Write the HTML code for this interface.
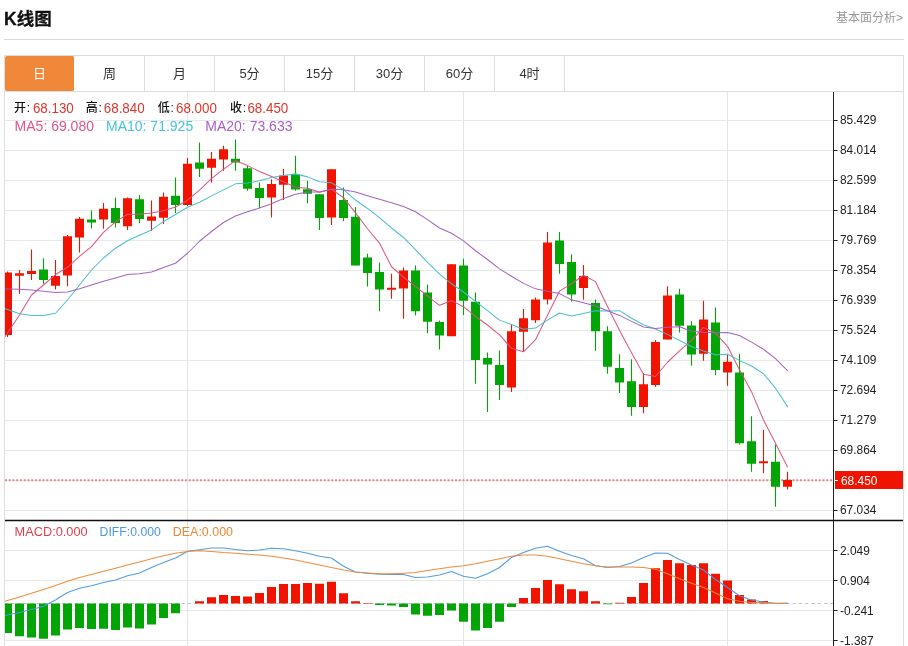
<!DOCTYPE html>
<html lang="zh-CN"><head><meta charset="utf-8"><title>K线图</title>
<style>
html,body{margin:0;padding:0;background:#fff;}
body{width:908px;height:646px;position:relative;overflow:hidden;font-family:"Liberation Sans","Noto Sans CJK SC",sans-serif;color:#222;}
.title{position:absolute;left:4px;top:7px;font-size:17.5px;font-weight:bold;line-height:24px;color:#111;-webkit-text-stroke:0.3px #111;}
.more{position:absolute;right:5px;top:9px;font-size:12px;line-height:18px;color:#999;}
.hr{position:absolute;left:4px;top:39px;width:900px;height:1px;background:#d9d9d9;}
.tabs{position:absolute;left:4px;top:55px;width:898px;height:35px;border:1px solid #ddd;background:#fff;}
.tab{float:left;width:69px;height:35px;border-right:1px solid #ddd;text-align:center;line-height:35px;font-size:13px;color:#333;box-sizing:content-box;}
.tab.on{background:#f0883a;color:#fff;border-right-color:#fff;border-radius:2px;}
</style></head><body>
<div class="title">K线图</div>
<div class="more">基本面分析&gt;</div>
<div class="hr"></div>
<div class="tabs"><div class="tab on">日</div><div class="tab">周</div><div class="tab">月</div><div class="tab">5分</div><div class="tab">15分</div><div class="tab">30分</div><div class="tab">60分</div><div class="tab">4时</div></div>
<svg width="900" height="555" viewBox="4 91 900 555" style="position:absolute;left:4px;top:91px;display:block" font-family="'Liberation Sans', 'Noto Sans CJK SC', sans-serif">
<defs><clipPath id="cp"><rect x="5" y="92" width="828" height="554"/></clipPath></defs>
<path d="M5 120.5H833M5 150.5H833M5 180.5H833M5 210.5H833M5 240.5H833M5 270.5H833M5 300.5H833M5 330.5H833M5 360.5H833M5 390.5H833M5 420.5H833M5 450.5H833M5 480.5H833M5 510.5H833M5 550.5H833M5 580.5H833M5 610.5H833M5 640.5H833" stroke="#e8e8e9" stroke-width="1" fill="none"/>
<path d="M187.5 92V646M463.5 92V646M727.5 92V646" stroke="#e1e6ed" stroke-width="1" fill="none"/>
<path d="M4.5 91V646M903.5 91V646" stroke="#ddd" stroke-width="1" fill="none"/>
<path d="M5 603.5H833" stroke="#bcc6d0" stroke-width="1" stroke-dasharray="3.3 3" fill="none"/>
<path d="M5 480.2H833" stroke="#dd8c8c" stroke-width="2" stroke-dasharray="2 1.75" fill="none"/>
<g clip-path="url(#cp)">
<path d="M7.5 271.5V337.0M19.5 270.0V293.75M31.5 249.5V280.0M55.5 260.0V289.5M67.5 235.0V286.25M79.5 217.0V252.5M103.5 203.0V228.75M127.5 197.5V230.0M151.5 200.5V231.0M163.5 192.5V224.0M187.5 158.0V206.0M211.5 152.0V182.5M223.5 145.75V170.75M271.5 179.25V217.5M283.5 169.0V200.0M331.5 169.25V225.0M391.5 273.75V298.75M403.5 267.5V318.75M451.5 264.25V336.25M511.5 324.5V392.0M523.5 309.0V351.0M535.5 297.5V323.0M547.5 232.0V304.5M583.5 265.0V299.75M643.5 373.0V413.25M655.5 340.0V386.75M667.5 286.25V339.5M703.5 300.75V360.75M727.5 355.0V385.75M763.5 430.0V473.25M787.5 471.75V489.5" stroke="#f01400" stroke-width="1.1" fill="none"/>
<path d="M3.0 272.5h9v62.5h-9zM15.0 273.25h9v2.5h-9zM27.0 271.0h9v3.0h-9zM51.0 276.0h9v9.75h-9zM63.0 236.25h9v39.25h-9zM75.0 218.75h9v18.75h-9zM99.0 208.75h9v10.75h-9zM123.0 198.25h9v28.0h-9zM147.0 216.5h9v4.25h-9zM159.0 196.75h9v21.0h-9zM183.0 163.75h9v41.25h-9zM207.0 158.75h9v9.0h-9zM219.0 149.25h9v10.25h-9zM267.0 184.0h9v13.5h-9zM279.0 175.5h9v9.25h-9zM327.0 169.25h9v48.25h-9zM387.0 287.75h9v2.0h-9zM399.0 270.5h9v18.0h-9zM447.0 264.25h9v72.0h-9zM507.0 331.25h9v56.25h-9zM519.0 318.25h9v13.5h-9zM531.0 299.5h9v20.75h-9zM543.0 242.5h9v57.0h-9zM579.0 276.0h9v12.0h-9zM639.0 384.25h9v22.75h-9zM651.0 342.0h9v43.0h-9zM663.0 295.5h9v44.0h-9zM699.0 319.5h9v34.25h-9zM723.0 361.75h9v10.75h-9zM759.0 461.25h9v2.0h-9zM783.0 480.0h9v6.75h-9z" fill="#f01400"/>
<path d="M43.5 258.25V283.75M91.5 210.5V228.5M115.5 197.5V227.5M139.5 195.0V223.25M175.5 177.5V213.0M199.5 142.5V177.0M235.5 139.5V170.75M247.5 165.75V190.75M259.5 182.5V208.0M295.5 155.75V190.75M307.5 180.75V203.25M319.5 194.25V230.0M343.5 187.5V221.25M355.5 207.0V265.5M367.5 253.75V286.5M379.5 262.5V311.25M415.5 265.5V315.5M427.5 284.5V333.25M439.5 320.5V349.5M463.5 258.75V315.0M475.5 292.5V383.75M487.5 352.5V412.0M499.5 350.5V400.0M559.5 232.0V273.75M571.5 254.25V301.5M595.5 299.5V350.75M607.5 326.25V373.75M619.5 354.25V393.0M631.5 359.25V415.75M679.5 288.75V332.5M691.5 321.25V365.75M715.5 307.5V375.25M739.5 353.75V444.5M751.5 416.25V471.75M775.5 444.5V506.75" stroke="#03a506" stroke-width="1.1" fill="none"/>
<path d="M39.0 269.5h9v10.5h-9zM87.0 219.5h9v3.0h-9zM111.0 208.0h9v15.0h-9zM135.0 199.25h9v19.75h-9zM171.0 195.75h9v9.25h-9zM195.0 162.5h9v6.25h-9zM231.0 158.75h9v3.75h-9zM243.0 168.25h9v20.5h-9zM255.0 188.0h9v10.0h-9zM291.0 174.25h9v15.25h-9zM303.0 189.25h9v4.5h-9zM315.0 194.25h9v23.75h-9zM339.0 200.0h9v18.0h-9zM351.0 216.75h9v48.75h-9zM363.0 257.5h9v15.5h-9zM375.0 272.0h9v17.5h-9zM411.0 270.5h9v40.75h-9zM423.0 292.5h9v29.25h-9zM435.0 322.0h9v13.5h-9zM459.0 265.5h9v35.25h-9zM471.0 301.75h9v58.25h-9zM483.0 358.0h9v6.5h-9zM495.0 365.0h9v20.0h-9zM555.0 240.5h9v23.5h-9zM567.0 262.0h9v32.5h-9zM591.0 303.0h9v28.25h-9zM603.0 331.25h9v35.5h-9zM615.0 368.0h9v14.5h-9zM627.0 381.25h9v25.75h-9zM675.0 294.5h9v31.25h-9zM687.0 325.5h9v29.0h-9zM711.0 322.5h9v47.5h-9zM735.0 372.5h9v70.75h-9zM747.0 441.25h9v22.5h-9zM771.0 461.75h9v25.0h-9z" fill="#03a506"/>
<path d="M195.0 601.25h9V603.5h-9zM207.0 597.25h9V603.5h-9zM219.0 595h9V603.5h-9zM231.0 596h9V603.5h-9zM243.0 596.5h9V603.5h-9zM255.0 593h9V603.5h-9zM267.0 587h9V603.5h-9zM279.0 584h9V603.5h-9zM291.0 584h9V603.5h-9zM303.0 583h9V603.5h-9zM315.0 583.75h9V603.5h-9zM327.0 581.75h9V603.5h-9zM339.0 593.25h9V603.5h-9zM351.0 601.25h9V603.5h-9zM363.0 603h9V603.5h-9zM519.0 598h9V603.5h-9zM531.0 588h9V603.5h-9zM543.0 580h9V603.5h-9zM555.0 584.25h9V603.5h-9zM567.0 589.25h9V603.5h-9zM579.0 591.25h9V603.5h-9zM591.0 601.25h9V603.5h-9zM615.0 602.75h9V603.5h-9zM627.0 597h9V603.5h-9zM639.0 583h9V603.5h-9zM651.0 568.25h9V603.5h-9zM663.0 560h9V603.5h-9zM675.0 563.25h9V603.5h-9zM687.0 565h9V603.5h-9zM699.0 563.25h9V603.5h-9zM711.0 573.75h9V603.5h-9zM723.0 580.5h9V603.5h-9zM735.0 595h9V603.5h-9zM747.0 599.5h9V603.5h-9zM759.0 601h9V603.5h-9z" fill="#f01400"/>
<path d="M3.0 603.5h9V633h-9zM15.0 603.5h9V636.25h-9zM27.0 603.5h9V637.5h-9zM39.0 603.5h9V638.75h-9zM51.0 603.5h9V635.5h-9zM63.0 603.5h9V629.5h-9zM75.0 603.5h9V628h-9zM87.0 603.5h9V629h-9zM99.0 603.5h9V628.75h-9zM111.0 603.5h9V630h-9zM123.0 603.5h9V627.5h-9zM135.0 603.5h9V628.5h-9zM147.0 603.5h9V624.5h-9zM159.0 603.5h9V618h-9zM171.0 603.5h9V613.25h-9zM375.0 603.5h9V605h-9zM387.0 603.5h9V605.5h-9zM399.0 603.5h9V607h-9zM411.0 603.5h9V614.5h-9zM423.0 603.5h9V615.75h-9zM435.0 603.5h9V615h-9zM447.0 603.5h9V610.5h-9zM459.0 603.5h9V621.75h-9zM471.0 603.5h9V630.5h-9zM483.0 603.5h9V628h-9zM495.0 603.5h9V621.75h-9zM507.0 603.5h9V607h-9zM603.0 603.5h9V604.25h-9z" fill="#03a506"/>
<polyline points="5,336.75 7.5,333 19.5,315 31.5,295 43.5,285 55.5,274.55 67.5,267.3 79.5,256.4 91.5,246.7 103.5,232.45 115.5,221.85 127.5,214.25 139.5,214.3 151.5,213.1 163.5,210.7 175.5,207.1 187.5,200.2 199.5,190.15 211.5,178.6 223.5,169.1 235.5,160.6 247.5,165.6 259.5,171.45 271.5,176.5 283.5,181.75 295.5,187.15 307.5,188.15 319.5,192.15 331.5,189.2 343.5,197.7 355.5,212.9 367.5,228.75 379.5,243.05 391.5,266.75 403.5,277.25 415.5,286.4 427.5,296.15 439.5,305.35 451.5,300.65 463.5,306.7 475.5,316.45 487.5,325.0 499.5,334.9 511.5,348.3 523.5,351.8 535.5,339.7 547.5,315.3 559.5,291.1 571.5,283.75 583.5,275.3 595.5,281.65 607.5,306.5 619.5,330.2 631.5,352.7 643.5,374.35 655.5,376.5 667.5,362.25 679.5,350.9 691.5,340.4 703.5,327.45 715.5,333.05 727.5,346.3 739.5,369.8 751.5,391.65 763.5,420.0 775.5,443.35 787.5,467.0" fill="none" stroke="#dc4f80" stroke-width="1.05" stroke-linejoin="round" stroke-linecap="round" opacity="0.95"/>
<polyline points="5,308.61 7.5,309.5 19.5,313.75 31.5,315.5 43.5,315.5 55.5,313.25 67.5,300 79.5,285 91.5,270 103.5,258 115.5,248.2 127.5,240.78 139.5,235.35 151.5,229.9 163.5,221.57 175.5,214.47 187.5,207.22 199.5,202.22 211.5,195.85 223.5,189.9 235.5,183.85 247.5,182.9 259.5,180.8 271.5,177.55 283.5,175.43 295.5,173.88 307.5,176.88 319.5,181.8 331.5,182.85 343.5,189.72 355.5,200.03 367.5,208.45 379.5,217.6 391.5,227.97 403.5,237.47 415.5,249.65 427.5,262.45 439.5,274.2 451.5,283.7 463.5,291.98 475.5,301.43 487.5,310.57 499.5,320.12 511.5,324.48 523.5,329.25 535.5,328.07 547.5,320.15 559.5,313.0 571.5,316.02 583.5,313.55 595.5,310.68 607.5,310.9 619.5,310.65 631.5,318.23 643.5,324.82 655.5,329.07 667.5,334.38 679.5,340.55 691.5,346.55 703.5,350.9 715.5,354.77 727.5,354.27 739.5,360.35 751.5,366.02 763.5,373.73 775.5,388.2 787.5,406.65" fill="none" stroke="#43bccc" stroke-width="1.05" stroke-linejoin="round" stroke-linecap="round" opacity="0.95"/>
<polyline points="5,288.95 7.5,289 19.5,289.25 31.5,290 43.5,291.25 55.5,292.5 67.5,292 79.5,288.75 91.5,285 103.5,281.25 115.5,278 127.5,274.5 139.5,273.75 151.5,272 163.5,267.5 175.5,263.25 187.5,253.25 199.5,241.25 211.5,231.5 223.5,222.5 235.5,216.03 247.5,211.84 259.5,208.07 271.5,203.72 283.5,198.5 295.5,194.18 307.5,192.05 319.5,192.01 331.5,189.35 343.5,189.81 355.5,191.94 367.5,195.68 379.5,199.2 391.5,202.76 403.5,206.45 415.5,211.76 427.5,219.66 439.5,228.0 451.5,233.28 463.5,240.85 475.5,250.72 487.5,259.51 499.5,268.86 511.5,276.23 523.5,283.36 535.5,288.86 547.5,291.3 559.5,293.6 571.5,299.86 583.5,302.76 595.5,306.05 607.5,310.74 619.5,315.39 631.5,321.35 643.5,327.04 655.5,328.57 667.5,327.26 679.5,326.77 691.5,331.29 703.5,332.23 715.5,332.73 727.5,332.59 739.5,335.5 751.5,342.12 763.5,349.27 775.5,358.64 787.5,370.51" fill="none" stroke="#a05cc0" stroke-width="1.05" stroke-linejoin="round" stroke-linecap="round" opacity="0.95"/>
<polyline points="5,615.52 7.5,615 19.5,612.5 31.5,609.5 43.5,606.25 55.5,600 67.5,592.5 79.5,588.25 91.5,585.75 103.5,582.5 115.5,580 127.5,575.75 139.5,573 151.5,567.5 163.5,562.5 175.5,558 187.5,551.25 199.5,549.75 211.5,548.1 223.5,548 235.5,549.5 247.5,550.75 259.5,550 271.5,548.25 283.5,548.75 295.5,550.75 307.5,553.25 319.5,556.25 331.5,558 343.5,566.25 355.5,572 367.5,573.25 379.5,574.25 391.5,574.5 403.5,574.6 415.5,577.5 427.5,577 439.5,575 451.5,571.5 463.5,576.25 475.5,578.25 487.5,573.75 499.5,567.5 511.5,557.5 523.5,552.5 535.5,548.25 547.5,546.25 559.5,551.25 571.5,555.5 583.5,558.75 595.5,565.75 607.5,567.5 619.5,566.6 631.5,563 643.5,557.5 655.5,553 667.5,553.25 679.5,559.5 691.5,565 703.5,570 715.5,579.5 727.5,587.5 739.5,595.75 751.5,600 763.5,602 775.5,603.25 787.5,603.25" fill="none" stroke="#4a98e0" stroke-width="1.05" stroke-linejoin="round" stroke-linecap="round" opacity="0.95"/>
<polyline points="5,601.23 7.5,600.5 19.5,597 31.5,593.25 43.5,589.5 55.5,585.5 67.5,581.25 79.5,577.5 91.5,574.5 103.5,571.25 115.5,568.25 127.5,565 139.5,562 151.5,558.75 163.5,555.75 175.5,553.25 187.5,551.5 199.5,550.75 211.5,551.4 223.5,552.5 235.5,553.25 247.5,554.25 259.5,555 271.5,556.25 283.5,558 295.5,560 307.5,562.5 319.5,565 331.5,567.5 343.5,570 355.5,572 367.5,573 379.5,573.75 391.5,573.75 403.5,573.25 415.5,572.5 427.5,570.5 439.5,568.75 451.5,567 463.5,565.75 475.5,563.75 487.5,561.25 499.5,558.75 511.5,556.25 523.5,555 535.5,555 547.5,556.25 559.5,558.75 571.5,561.25 583.5,563.75 595.5,565.75 607.5,567 619.5,567 631.5,567 643.5,567.5 655.5,569.25 667.5,573.75 679.5,578.75 691.5,583.25 703.5,587.5 715.5,593 727.5,598.75 739.5,601.25 751.5,602.5 763.5,602.5 775.5,603.6 787.5,603.25" fill="none" stroke="#ef8633" stroke-width="1.05" stroke-linejoin="round" stroke-linecap="round" opacity="0.95"/>
</g>
<path d="M5 520.5H903" stroke="#111" stroke-width="1.3" fill="none"/>
<path d="M833.5 92V646" stroke="#222" stroke-width="1" fill="none"/>
<path d="M834 120.5H837.6M834 150.5H837.6M834 180.5H837.6M834 210.5H837.6M834 240.5H837.6M834 270.5H837.6M834 300.5H837.6M834 330.5H837.6M834 360.5H837.6M834 390.5H837.6M834 420.5H837.6M834 450.5H837.6M834 480.5H837.6M834 510.5H837.6M834 550.5H837.6M834 580.5H837.6M834 610.5H837.6M834 640.5H837.6" stroke="#222" stroke-width="1" fill="none"/>
<g font-size="12.6" fill="#222" transform="translate(840 0) scale(0.945 1)">
<text x="0" y="124.1">85.429</text>
<text x="0" y="154.1">84.014</text>
<text x="0" y="184.1">82.599</text>
<text x="0" y="214.1">81.184</text>
<text x="0" y="244.1">79.769</text>
<text x="0" y="274.1">78.354</text>
<text x="0" y="304.1">76.939</text>
<text x="0" y="334.1">75.524</text>
<text x="0" y="364.1">74.109</text>
<text x="0" y="394.1">72.694</text>
<text x="0" y="424.1">71.279</text>
<text x="0" y="454.1">69.864</text>
<text x="0" y="514.1">67.034</text>
<text x="0" y="554.6">2.049</text>
<text x="0" y="584.6">0.904</text>
<text x="0" y="614.6">-0.241</text>
<text x="0" y="644.6">-1.387</text>
</g>
<rect x="835" y="471" width="68" height="18" fill="#f01400"/>
<path d="M834 480.5H838" stroke="#fff" stroke-width="1"/>
<text transform="translate(841 484.6) scale(0.945 1)" font-size="12.6" fill="#fff">68.450</text>
<g font-size="12" fill="#111" font-weight="500">
<text x="14" y="112.3">开<tspan dx="0.8">:</tspan></text>
<text x="85.8" y="112.3">高<tspan dx="0.8">:</tspan></text>
<text x="157.8" y="112.3">低<tspan dx="0.8">:</tspan></text>
<text x="230" y="112.3">收<tspan dx="0.8">:</tspan></text>
</g>
<g font-size="14" fill="#e0362c">
<text transform="translate(32.9 113) scale(0.955 1)">68.130</text>
<text transform="translate(103.8 113) scale(0.955 1)">68.840</text>
<text transform="translate(176 113) scale(0.955 1)">68.000</text>
<text transform="translate(247.4 113) scale(0.955 1)">68.450</text>
</g>
<text y="131" font-size="14"><tspan x="14.6" fill="#e0558a">MA5: 69.080</tspan><tspan x="106" fill="#46c3d6">MA10: 71.925</tspan><tspan x="205.3" fill="#a85fc9">MA20: 73.633</tspan></text>
<g font-size="12.8">
<text x="14.6" y="536" fill="#dc3f4d" textLength="73" lengthAdjust="spacingAndGlyphs">MACD:0.000</text>
<text x="99.6" y="536" fill="#4a98e0" textLength="61.2" lengthAdjust="spacingAndGlyphs">DIFF:0.000</text>
<text x="172.8" y="536" fill="#ef8633" textLength="60.2" lengthAdjust="spacingAndGlyphs">DEA:0.000</text>
</g>
</svg>
</body></html>
